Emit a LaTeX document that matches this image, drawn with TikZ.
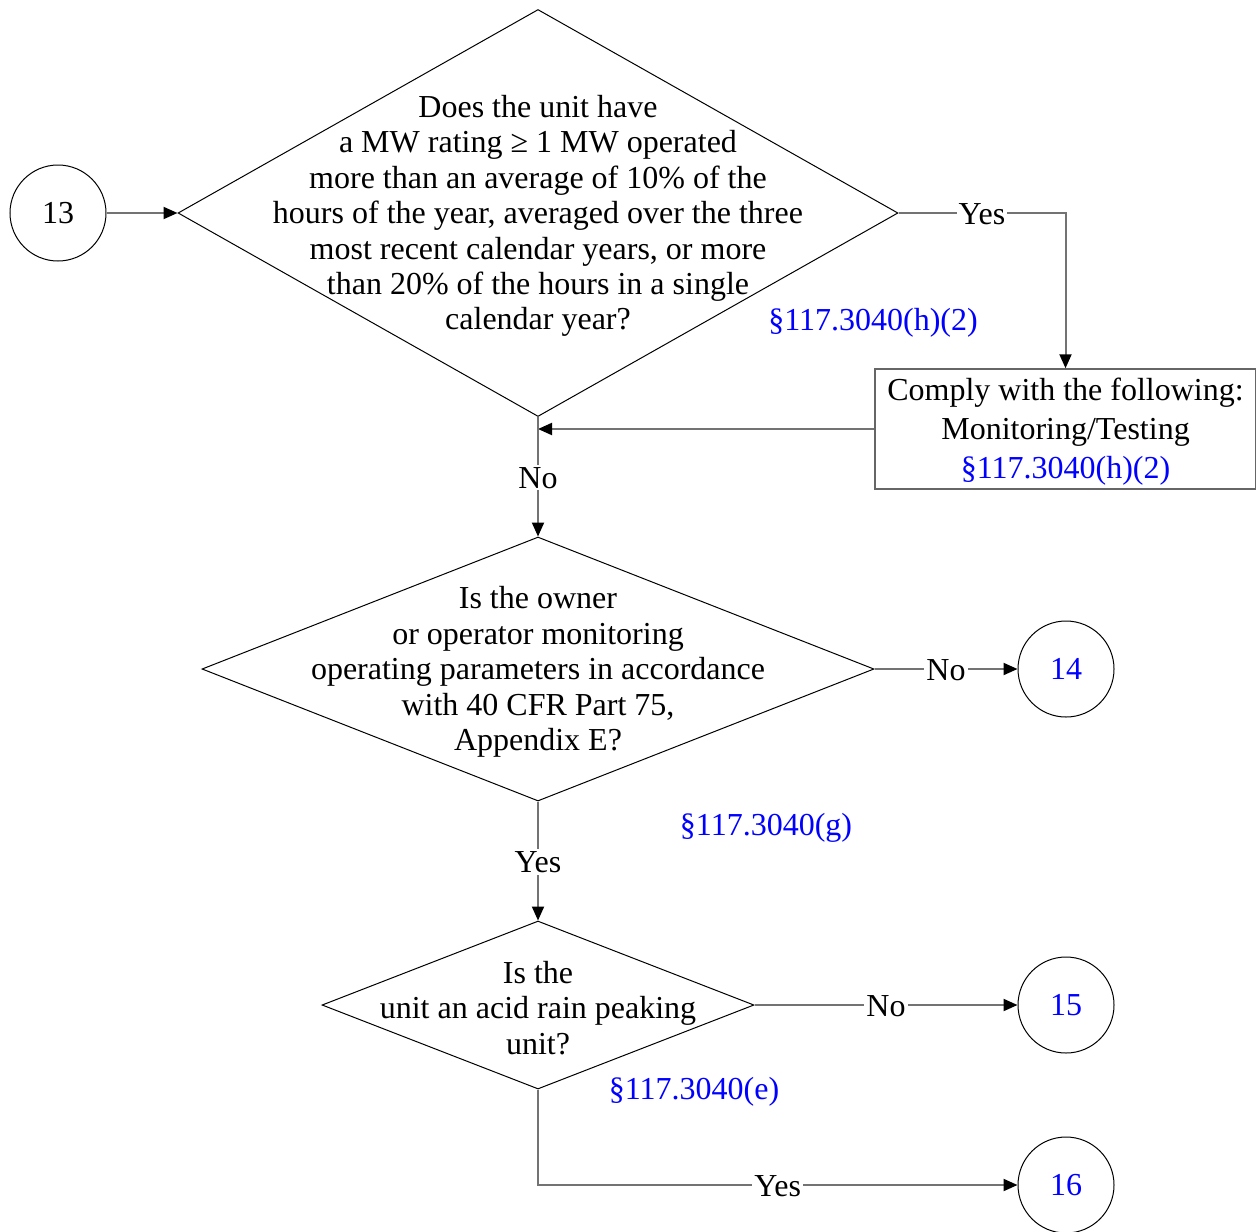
\documentclass[tikz,border=0pt]{standalone}
\usepackage{fontspec}
\setmainfont{Liberation Serif}
\usetikzlibrary{arrows.meta,shapes.geometric}

\begin{document}
\begin{tikzpicture}[x=0.5pt, y=-0.5pt,
        decision/.style={draw, diamond, inner sep=0pt, line width=0.5pt},
        qtext/.style={align=center, yshift=-1.5pt, font=\fontsize{16}{17.7}\selectfont},
        refnum/.style={circle, draw, line width=0.5pt, minimum size=48pt, inner sep=0pt,
            font=\fontsize{16}{17.7}\selectfont},
        action/.style={draw=black!60, line width=0.75pt, minimum width=190.5pt, minimum height=60pt,
            inner sep=0pt},
        acttext/.style={align=center, yshift=-1.5pt, font=\fontsize{16}{19.5}\selectfont},
        cite/.style={text=blue, yshift=-1.5pt, font=\fontsize{16}{17.7}\selectfont},
        arr/.style={draw=black!55, line width=1pt, -{Triangle[length=7pt, width=6pt, color=black]}},
        lbl/.style={fill=white, inner sep=1pt, yshift=-0.5pt, font=\fontsize{16}{17.7}\selectfont}
    ]
        \useasboundingbox (0,0) rectangle (1256,1231);
        % first question
        \node[refnum] (n13) at (58,213) {13};
        \node[decision, minimum width=360pt, minimum height=203.5pt] (q1) at (538,213) {};
        \node[qtext] (q1text) at (q1.center) {Does the unit have\\a MW rating ≥ 1 MW operated\\more than an average of 10\% of the\\hours of the year, averaged over the three\\most recent calendar years, or more\\than 20\% of the hours in a single\\calendar year?};
        \node[cite] (c1) at (873,320) {§117.3040(h)(2)};
        \node[action] (act) at (1065.5,429) {};
        \node[acttext] (acttxt) at (act.center) {Comply with the following:\\Monitoring/Testing\\\textcolor{blue}{§117.3040(h)(2)}};
        % second question
        \node[decision, minimum width=336pt, minimum height=132pt] (q2) at (538,669) {};
        \node[qtext] (q2text) at (q2.center) {Is the owner\\or operator monitoring\\operating parameters in accordance\\with 40 CFR Part 75,\\Appendix E?};
        \node[refnum, text=blue] (n14) at (1066,669) {14};
        \node[cite] (c2) at (766,825) {§117.3040(g)};
        % third question
        \node[decision, minimum width=216pt, minimum height=84pt] (q3) at (538,1005) {};
        \node[qtext] (q3text) at (q3.center) {Is the\\unit an acid rain peaking\\unit?};
        \node[refnum, text=blue] (n15) at (1066,1005) {15};
        \node[cite] (c3) at (694,1089) {§117.3040(e)};
        \node[refnum, text=blue] (n16) at (1066,1185) {16};
        % connectors
        \draw[arr] (n13) -- (q1.west);
        \draw[arr] (q1.east) -| node[lbl, pos=0.25] {Yes} (act.north);
        \draw[arr] (act.west) -- (act.west -| q1.south);
        \draw[arr] (q1.south) -- node[lbl] {No} (q2.north);
        \draw[arr] (q2.east) -- node[lbl] {No} (n14);
        \draw[arr] (q2.south) -- node[lbl] {Yes} (q3.north);
        \draw[arr] (q3.east) -- node[lbl] {No} (n15);
        \draw[arr] (q3.south) |- node[lbl, pos=0.75] {Yes} (n16);
    \end{tikzpicture}
\end{document}
